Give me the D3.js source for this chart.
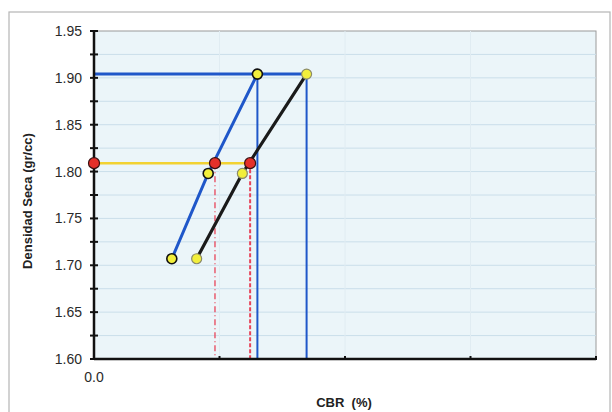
<!DOCTYPE html>
<html>
<head>
<meta charset="utf-8">
<script src="https://cdn.jsdelivr.net/npm/d3@7"></script>
<style>
  html, body { margin: 0; padding: 0; background: #ffffff; }
  svg { display: block; font-family: Arial, "Liberation Sans", sans-serif; }
</style>
</head>
<body>
<svg id="chart" width="612" height="412"></svg>
<script>
// Axis ticks
const yTicks = [1.60, 1.65, 1.70, 1.75, 1.80, 1.85, 1.90, 1.95];
const yMinorTicks = [1.625, 1.675, 1.725, 1.775, 1.825, 1.875, 1.925];
const xTicks = [0, 5, 10, 15, 20];
const xTickLabels = ["0.0", "", "", "", ""];

// Density vs CBR curves (three specimens each)
const curveA_cbr = [3.10, 4.55, 6.51];
const curveA_dens = [1.707, 1.798, 1.904];
const curveB_cbr = [4.09, 5.91, 8.47];
const curveB_dens = [1.707, 1.798, 1.904];

// Maximum dry density and 95 % of it
const maxDensity = 1.904;
const density95 = 1.809;
const cbrAt95 = [4.82, 6.22];

const svg = d3.select("#chart");
const m = { left: 94, right: 596, top: 31, bottom: 359 };

const x = d3.scaleLinear().domain([0, 20]).range([m.left, m.right]);
const y = d3.scaleLinear().domain([1.60, 1.95]).range([m.bottom, m.top]);

// outer frame
svg.append("rect").attr("x", 9).attr("y", 12).attr("width", 601).attr("height", 420)
  .attr("fill", "#ffffff").attr("stroke", "#b5b5b5").attr("stroke-width", 1.2);

// plot background
svg.append("rect").attr("x", m.left).attr("y", m.top)
  .attr("width", m.right - m.left).attr("height", m.bottom - m.top)
  .attr("fill", "#ebf5f9").attr("stroke", "#9a9a9a").attr("stroke-width", 1);

// horizontal gridlines
svg.append("g").selectAll("line").data(yTicks.concat(yMinorTicks).filter(v => v > 1.60 && v < 1.95))
  .join("line")
  .attr("x1", m.left).attr("x2", m.right)
  .attr("y1", d => y(d)).attr("y2", d => y(d))
  .attr("stroke", "#cadeea").attr("stroke-width", 1);

// vertical gridlines
svg.append("g").selectAll("line").data(xTicks.filter(v => v > 0 && v < 20))
  .join("line")
  .attr("x1", d => x(d)).attr("x2", d => x(d))
  .attr("y1", m.top).attr("y2", m.bottom)
  .attr("stroke", "#e0ecf2").attr("stroke-width", 1);

// 95 % density guide
svg.append("line")
  .attr("x1", x(0)).attr("x2", x(cbrAt95[1]))
  .attr("y1", y(density95)).attr("y2", y(density95))
  .attr("stroke", "#f2d232").attr("stroke-width", 2.5);

// drop lines from the 95 % points
svg.append("line")
  .attr("x1", x(cbrAt95[0])).attr("x2", x(cbrAt95[0]))
  .attr("y1", y(density95)).attr("y2", y(1.60))
  .attr("stroke", "#e8455a").attr("stroke-width", 1.3)
  .attr("stroke-dasharray", "6,3,1,3");
svg.append("line")
  .attr("x1", x(cbrAt95[1])).attr("x2", x(cbrAt95[1]))
  .attr("y1", y(density95)).attr("y2", y(1.60))
  .attr("stroke", "#e8455a").attr("stroke-width", 2)
  .attr("stroke-dasharray", "4,2");

// maximum density guide
const topA = curveA_cbr[2], topB = curveB_cbr[2];
svg.append("line")
  .attr("x1", x(0)).attr("x2", x(topB))
  .attr("y1", y(maxDensity)).attr("y2", y(maxDensity))
  .attr("stroke", "#1f57c9").attr("stroke-width", 3);
[topA, topB].forEach(v => {
  svg.append("line")
    .attr("x1", x(v)).attr("x2", x(v))
    .attr("y1", y(maxDensity)).attr("y2", y(1.60))
    .attr("stroke", "#1f57c9").attr("stroke-width", 2);
});

const line = d3.line().x(d => x(d[0])).y(d => y(d[1]));
const ptsA = curveA_cbr.map((v, i) => [v, curveA_dens[i]]);
const ptsB = curveB_cbr.map((v, i) => [v, curveB_dens[i]]);

svg.append("path").datum(ptsA).attr("d", line)
  .attr("fill", "none").attr("stroke", "#1f57c9").attr("stroke-width", 3);
svg.append("path").datum(ptsB).attr("d", line)
  .attr("fill", "none").attr("stroke", "#1a1a1a").attr("stroke-width", 3.2);

// y axis
const yAxis = svg.append("g");
yAxis.append("line").attr("x1", m.left).attr("x2", m.left)
  .attr("y1", m.top).attr("y2", m.bottom)
  .attr("stroke", "#111").attr("stroke-width", 2.5);
yAxis.selectAll("line.tk").data(yTicks.concat(yMinorTicks)).join("line")
  .attr("class", "tk")
  .attr("x1", m.left - 4).attr("x2", m.left + 4)
  .attr("y1", d => y(d)).attr("y2", d => y(d))
  .attr("stroke", "#111").attr("stroke-width", 2);
yAxis.selectAll("text").data(yTicks).join("text")
  .attr("x", 82).attr("y", d => y(d) + 5)
  .attr("text-anchor", "end").attr("font-size", 14).attr("fill", "#2a2a2a")
  .text(d => d3.format(".2f")(d));

// x axis
const xAxis = svg.append("g");
xAxis.append("line").attr("x1", m.left).attr("x2", m.right)
  .attr("y1", m.bottom).attr("y2", m.bottom)
  .attr("stroke", "#111").attr("stroke-width", 2.5);
xAxis.selectAll("line.tk").data(xTicks).join("line")
  .attr("class", "tk")
  .attr("x1", d => x(d)).attr("x2", d => x(d))
  .attr("y1", m.bottom - 3).attr("y2", m.bottom + 1)
  .attr("stroke", "#111").attr("stroke-width", 2);
xAxis.selectAll("text").data(xTicks).join("text")
  .attr("x", d => x(d)).attr("y", 382)
  .attr("text-anchor", "middle").attr("font-size", 14).attr("fill", "#2a2a2a")
  .text((d, i) => xTickLabels[i]);

// specimen markers
svg.append("g").selectAll("circle").data(ptsA).join("circle")
  .attr("cx", d => x(d[0])).attr("cy", d => y(d[1])).attr("r", 5)
  .attr("fill", "#f2ef3c").attr("stroke", "#111").attr("stroke-width", 1.6);
svg.append("g").selectAll("circle").data(ptsB).join("circle")
  .attr("cx", d => x(d[0])).attr("cy", d => y(d[1])).attr("r", 5)
  .attr("fill", "#f2ef3c").attr("stroke", "#8a8a6a").attr("stroke-width", 1.2);

// 95 % markers
const redPts = [[0, density95], [cbrAt95[0], density95], [cbrAt95[1], density95]];
svg.append("g").selectAll("circle").data(redPts).join("circle")
  .attr("cx", d => x(d[0])).attr("cy", d => y(d[1])).attr("r", 5.5)
  .attr("fill", "#e5302a").attr("stroke", "#3a1010").attr("stroke-width", 1.2);

// axis titles
svg.append("text")
  .attr("transform", "translate(32,201) rotate(-90)")
  .attr("text-anchor", "middle").attr("font-size", 13).attr("font-weight", "bold").attr("fill", "#222")
  .text("Densidad Seca (gr/cc)");
svg.append("text")
  .attr("x", 344).attr("y", 407)
  .attr("text-anchor", "middle").attr("font-size", 13).attr("font-weight", "bold").attr("fill", "#222")
  .attr("xml:space", "preserve").style("white-space", "pre")
  .text("CBR  (%)");
</script>
</body>
</html>
